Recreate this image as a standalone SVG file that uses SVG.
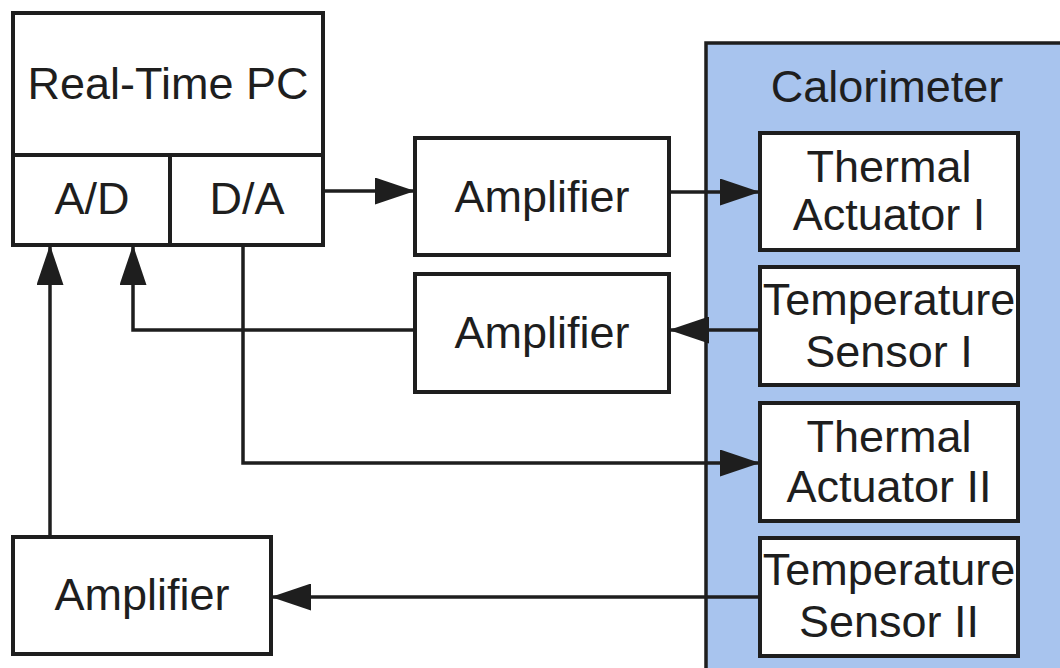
<svg xmlns="http://www.w3.org/2000/svg" width="1060" height="668" viewBox="0 0 1060 668">
  <style>
    .box { fill: #ffffff; stroke: #1e1e1e; stroke-width: 4; }
    .cal { fill: #a8c4ee; stroke: #1e1e1e; stroke-width: 3.5; }
    .line { fill: none; stroke: #1e1e1e; stroke-width: 3.5; }
    .lbl { font-family: "Liberation Sans", Arial, sans-serif; font-size: 45px; fill: #1e1e1e; text-anchor: middle; }
  </style>
  <defs>
    <marker id="arr" markerUnits="userSpaceOnUse" markerWidth="40" markerHeight="27" refX="40" refY="13.5" orient="auto">
      <path d="M0,0 L40,13.5 L0,27 z" fill="#1e1e1e"/>
    </marker>
  </defs>
  <rect width="1060" height="668" fill="#ffffff"/>

  <g id="calorimeter">
    <rect class="cal" x="706" y="43" width="400" height="700"/>
    <text class="lbl" x="887" y="102">Calorimeter</text>
  </g>

  <g id="pc">
    <rect class="box" x="13" y="13" width="310" height="232"/>
    <line class="line" x1="13" y1="155" x2="323" y2="155" style="stroke-width:4"/>
    <line class="line" x1="170" y1="155" x2="170" y2="245" style="stroke-width:4"/>
    <text class="lbl" x="168" y="99">Real-Time PC</text>
    <text class="lbl" x="92" y="214">A/D</text>
    <text class="lbl" x="247" y="214">D/A</text>
  </g>

  <g id="amp1">
    <rect class="box" x="415" y="138" width="254" height="117"/>
    <text class="lbl" x="542" y="212">Amplifier</text>
  </g>
  <g id="amp2">
    <rect class="box" x="415" y="274" width="254" height="118"/>
    <text class="lbl" x="542" y="348">Amplifier</text>
  </g>
  <g id="amp3">
    <rect class="box" x="13" y="537" width="258" height="117"/>
    <text class="lbl" x="142" y="610">Amplifier</text>
  </g>

  <g id="ta1">
    <rect class="box" x="760" y="133" width="258" height="117"/>
    <text class="lbl" x="889" y="182">Thermal</text>
    <text class="lbl" x="889" y="230">Actuator I</text>
  </g>
  <g id="ts1">
    <rect class="box" x="760" y="267" width="258" height="118"/>
    <text class="lbl" x="889" y="315">Temperature</text>
    <text class="lbl" x="889" y="367">Sensor I</text>
  </g>
  <g id="ta2">
    <rect class="box" x="760" y="403" width="258" height="118"/>
    <text class="lbl" x="889" y="452">Thermal</text>
    <text class="lbl" x="889" y="502">Actuator II</text>
  </g>
  <g id="ts2">
    <rect class="box" x="760" y="538" width="258" height="118"/>
    <text class="lbl" x="889" y="585">Temperature</text>
    <text class="lbl" x="889" y="637">Sensor II</text>
  </g>

  <g id="connectors">
    <path class="line" d="M323,191 H415" marker-end="url(#arr)"/>
    <path class="line" d="M669,192 H760" marker-end="url(#arr)"/>
    <path class="line" d="M760,330 H669" marker-end="url(#arr)"/>
    <path class="line" d="M415,330 H133 V245" marker-end="url(#arr)"/>
    <path class="line" d="M243,245 V463 H760" marker-end="url(#arr)"/>
    <path class="line" d="M760,597 H271" marker-end="url(#arr)"/>
    <path class="line" d="M50,537 V245" marker-end="url(#arr)"/>
  </g>
</svg>
